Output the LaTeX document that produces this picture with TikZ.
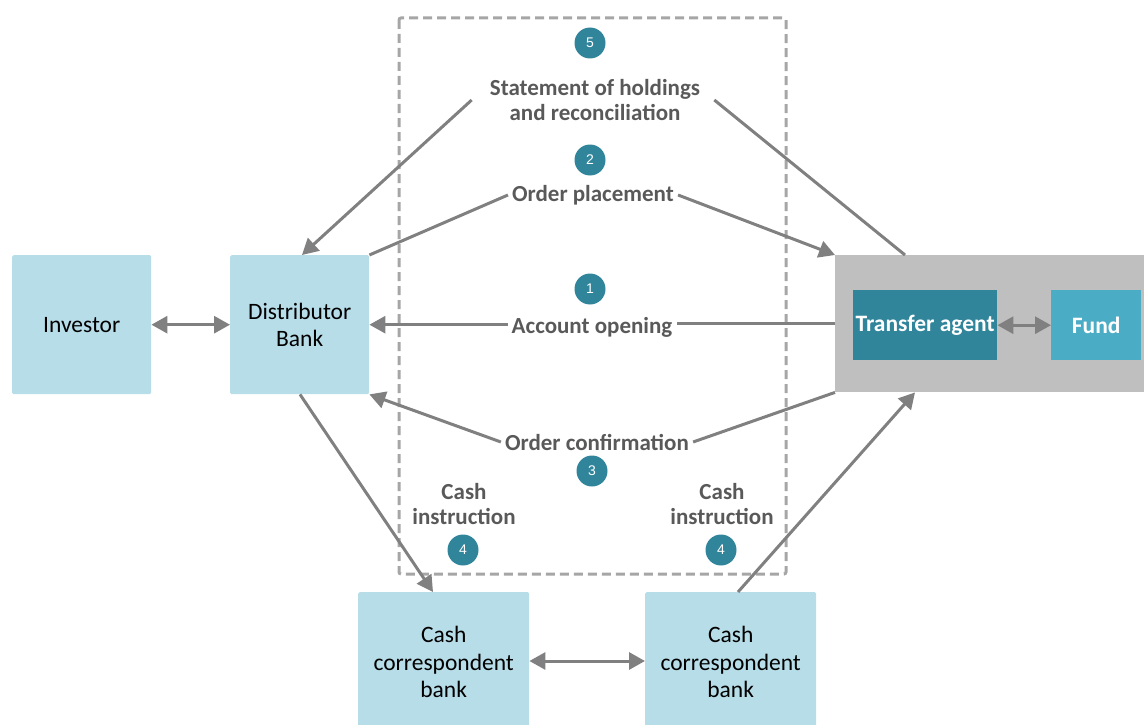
\documentclass[tikz,border=0pt]{standalone}
\usepackage{fontspec}
\setmainfont{Carlito}
\newfontfamily\numfont{Liberation Sans}
\usetikzlibrary{arrows.meta, positioning}
\definecolor{boxblue}{RGB}{183,221,232}
\definecolor{agentteal}{RGB}{49,133,155}
\definecolor{fundblue}{RGB}{75,172,198}
\definecolor{groupgray}{RGB}{191,191,191}
\definecolor{linegray}{RGB}{128,128,128}
\definecolor{labelgray}{RGB}{89,89,89}
\definecolor{dashgray}{RGB}{166,166,166}

\tikzset{
  party/.style={fill=boxblue, rounded corners=1.5pt, inner sep=0pt, align=center, anchor=north west, font=\fontsize{23.5}{27.5}\selectfont},
  stepnum/.style={circle, fill=agentteal, text=white, minimum size=31pt, inner sep=0pt, font=\numfont\fontsize{14}{14}\selectfont},
  flowlabel/.style={text=labelgray, align=center, inner sep=4pt, font=\bfseries\fontsize{23}{25}\selectfont},
  flow/.style={draw=linegray, line width=3pt},
  tip/.style={-{Triangle[length=16pt,width=17pt]}},
  tips/.style={{Triangle[length=16pt,width=17pt]}-{Triangle[length=16pt,width=17pt]}},
}

\begin{document}
\begin{tikzpicture}[x=1pt, y=-1pt]
  \useasboundingbox (0,0) rectangle (1144,725);

  % Parties
  \node[party, minimum width=139pt, minimum height=139pt] (investor) at (12,255) {Investor};
  \node[party, minimum width=139pt, minimum height=139pt] (distributor) at (230,255) {Distributor\\Bank};
  \node[party, minimum width=171pt, minimum height=140pt] (bankl) at (358,592) {Cash\\correspondent\\bank};
  \node[party, minimum width=171pt, minimum height=140pt] (bankr) at (645,592) {Cash\\correspondent\\bank};

  % Transfer agent group
  \node[fill=groupgray, anchor=north west, inner sep=0pt, minimum width=309pt, minimum height=137pt] (group) at (835,255) {};
  \node[fill=agentteal, text=white, anchor=north west, inner sep=0pt, minimum width=144pt, minimum height=70pt, font=\bfseries\fontsize{23.5}{27}\selectfont] (agent) at (853,290) {Transfer agent};
  \node[fill=fundblue, text=white, anchor=north west, inner sep=0pt, minimum width=90pt, minimum height=70pt, font=\bfseries\fontsize{23.5}{27}\selectfont] (fund) at (1051,290) {Fund};

  % Dashed frame
  \draw[dashgray, line width=3pt, dash pattern=on 9pt off 5pt, rounded corners=2pt] (399,18) rectangle (786,574);

  % Steps
  \node[stepnum] (n5) at (590,43) {5};
  \node[flowlabel] (statement) at (595,100) {Statement of holdings\\and reconciliation};
  \node[stepnum] (n2) at (590,160) {2};
  \node[flowlabel] (placement) at (593,195) {Order placement};
  \node[stepnum] (n1) at (590,289) {1};
  \node[flowlabel] (opening) at (592,327) {Account opening};
  \node[flowlabel] (confirm) at (597,442) {Order confirmation};
  \node[stepnum] (n3) at (592,471) {3};
  \node[flowlabel] (cashl) at (464,504) {Cash\\instruction};
  \node[stepnum] (n4l) at (463,550) {4};
  \node[flowlabel] (cashr) at (722,504) {Cash\\instruction};
  \node[stepnum] (n4r) at (721,550) {4};

  % Connectors
  \draw[flow, tips] (investor) -- (distributor);
  \draw[flow, tips] (agent) -- (fund);
  \draw[flow, tips] (bankl.east |- 0,661) -- (bankr.west |- 0,661);

  \draw[flow] (group.west) -- (group.west -| opening.east);
  \draw[flow, tip] (opening.west |- distributor.east) -- (distributor.east);

  \draw[flow] (distributor.north east) -- (placement.west);
  \draw[flow, tip] (placement.east) -- (group.north west);

  \draw[flow] ([xshift=70pt]group.north west) -- ([xshift=10pt]statement.east);
  \draw[flow, tip] ([xshift=-14pt]statement.west) -- ([xshift=72pt]distributor.north west);

  \draw[flow] (group.south west) -- (confirm.east);
  \draw[flow, tip] (confirm.west) -- (distributor.south east);

  \draw[flow, tip] ([xshift=70pt]distributor.south west) -- ([xshift=75pt]bankl.north west);
  \draw[flow, tip] ([xshift=93pt]bankr.north west) -- ([xshift=80pt]group.south west);
\end{tikzpicture}
\end{document}
